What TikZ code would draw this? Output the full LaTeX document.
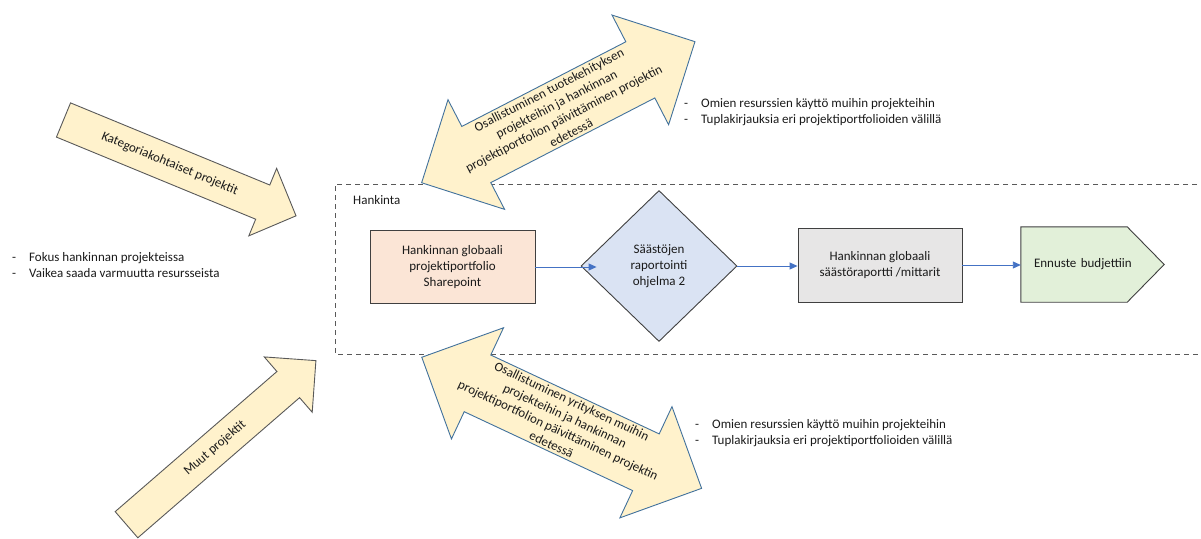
\documentclass[tikz,border=0pt]{standalone}
\usepackage{fontspec}
\setmainfont{Carlito}
\usetikzlibrary{shapes.geometric,arrows.meta,backgrounds}
\definecolor{arrowfill}{HTML}{FFF2CC}
\definecolor{grayline}{HTML}{595959}
\definecolor{blueline}{HTML}{41719C}
\definecolor{boxline}{HTML}{404040}
\definecolor{pinkfill}{HTML}{FBE5D6}
\definecolor{bluefill}{HTML}{DAE3F3}
\definecolor{grayfill}{HTML}{E7E6E6}
\definecolor{greenfill}{HTML}{E2F0D9}
\definecolor{conn}{HTML}{4472C4}
\definecolor{txt}{HTML}{1A1A1A}
\begin{document}
\begin{tikzpicture}[x=1pt,y=-1pt,
  every node/.style={text=txt, font=\fontsize{13}{16}\selectfont},
  bigarrowgray/.style={draw=grayline, fill=arrowfill, line width=0.9pt, line join=miter},
  bigarrowblue/.style={draw=blueline, fill=arrowfill, line width=0.9pt, line join=miter},
  procbox/.style={draw=boxline, line width=0.9pt, align=center, inner sep=0pt},
  connector/.style={draw=conn, line width=0.9pt, -{Triangle[length=8pt,width=7pt]}},
  frame/.style={draw=grayline, line width=0.9pt, dash pattern=on 5pt off 4pt},
  bullets/.style={anchor=west, align=left, inner sep=0pt}
]
\useasboundingbox (0,0) rectangle (1201,538);
\clip (0,0) rectangle (1201,538);

% Hankinta frame (open to the right)
\draw[frame] (1215,184) -- (335,184) -- (335,354) -- (1215,354);
\node[anchor=west, inner sep=0pt] (hankinta) at (353,200) {Hankinta};

% process nodes
\node[procbox, fill=pinkfill, minimum width=165, minimum height=73] (portfolio) at (452.5,267)
  {Hankinnan globaali\\projektiportfolio\\Sharepoint};
\node[procbox, diamond, fill=bluefill, minimum width=156, minimum height=151] (saasto) at (659,266)
  {Säästöjen\\raportointi\\ohjelma 2};
\node[procbox, fill=grayfill, minimum width=164, minimum height=74] (raportti) at (880,265)
  {Hankinnan globaali\\säästöraportti /mittarit};
\node[inner xsep=13pt, inner ysep=0pt, text width=117, align=left, minimum height=75] (ennuste) at (1092.5,264.5)
  {Ennuste budjettiin};
\begin{scope}[on background layer]
\draw[draw=boxline, fill=greenfill, line width=0.9pt]
  (ennuste.north west) -- ([xshift=-37]ennuste.north east) -- (ennuste.east)
  -- ([xshift=-37]ennuste.south east) -- (ennuste.south west) -- cycle;
\end{scope}

% connectors
\draw[connector] (portfolio.east) -- ([xshift=16]saasto.west |- portfolio.east);
\draw[connector] (saasto.east) -- (raportti.west |- saasto.east);
\draw[connector] (raportti.east) -- (ennuste.west |- raportti.east);

% Kategoriakohtaiset projektit arrow
\begin{scope}[shift={(63.5,120)}, rotate=-22.4]
  \draw[bigarrowgray] (0,-18.5) -- (215.5,-18.5) -- (215.5,-36.5) -- (251.5,0)
    -- (215.5,36.5) -- (215.5,18.5) -- (0,18.5) -- cycle;
  \node[rotate=-22.4] (kategoria) at (115,0) {Kategoriakohtaiset projektit};
\end{scope}

% Muut projektit arrow
\begin{scope}[shift={(126.5,524.7)}, rotate=40.9]
  \draw[bigarrowgray] (0,-17.3) -- (214,-17.3) -- (214,-36.6) -- (250.6,0)
    -- (214,36.6) -- (214,17.3) -- (0,17.3) -- cycle;
  \node[rotate=40.9] (muut) at (117,0) {Muut projektit};
\end{scope}

% upper double arrow
\begin{scope}[shift={(558.3,112.2)}, rotate=27.3]
  \draw[bigarrowblue] (-153.8,0) -- (-92.3,61.7) -- (-92.3,31.6) -- (92.3,31.6) -- (92.3,61.7)
    -- (153.8,0) -- (92.3,-61.7) -- (92.3,-31.6) -- (-92.3,-31.6) -- (-92.3,-61.7) -- cycle;
  \node[rotate=27.3, align=center] (ylaosallistuminen) at (2,0)
    {Osallistuminen tuotekehityksen\\projekteihin ja hankinnan\\projektiportfolion päivittäminen projektin\\edetessä};
\end{scope}

% lower double arrow
\begin{scope}[shift={(561.7,422.8)}, rotate=-25.1]
  \draw[bigarrowblue] (-154.5,0) -- (-93,61.4) -- (-93,31.3) -- (93,31.3) -- (93,61.4)
    -- (154.5,0) -- (93,-61.4) -- (93,-31.3) -- (-93,-31.3) -- (-93,-61.4) -- cycle;
  \node[rotate=-25.1, align=center] (alaosallistuminen) at (0,0)
    {Osallistuminen yrityksen muihin\\projekteihin ja hankinnan\\projektiportfolion päivittäminen projektin\\edetessä};
\end{scope}

% bullet texts
\node[bullets] (vasen) at (12,265.5)
  {\makebox[17pt][l]{-}Fokus hankinnan projekteissa\\\makebox[17pt][l]{-}Vaikea saada varmuutta resursseista};
\node[bullets] (ylaoikea) at (684,112.5)
  {\makebox[17pt][l]{-}Omien resurssien käyttö muihin projekteihin\\\makebox[17pt][l]{-}Tuplakirjauksia eri projektiportfolioiden välillä};
\node[bullets] (alaoikea) at (695,433)
  {\makebox[17pt][l]{-}Omien resurssien käyttö muihin projekteihin\\\makebox[17pt][l]{-}Tuplakirjauksia eri projektiportfolioiden välillä};
\end{tikzpicture}
\end{document}
